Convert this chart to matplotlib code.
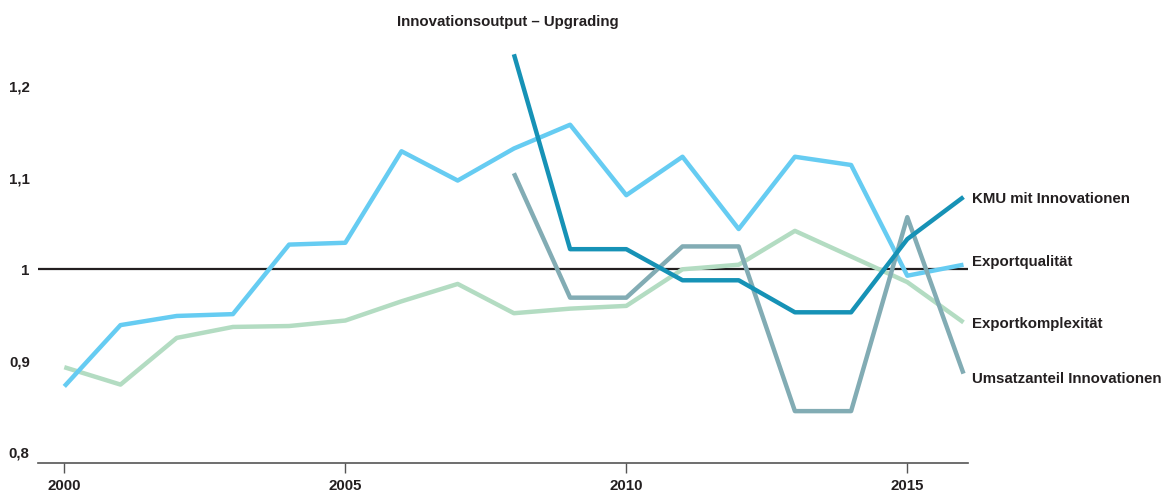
import matplotlib
matplotlib.use("Agg")
import matplotlib.pyplot as plt

# data
years = list(range(2000, 2017))
years_late = list(range(2008, 2017))

exportqualitaet = [0.872, 0.939, 0.949, 0.951, 1.027, 1.029, 1.129, 1.097, 1.132,
                   1.158, 1.081, 1.123, 1.044, 1.123, 1.114, 0.993, 1.005]
exportkomplexitaet = [0.893, 0.874, 0.925, 0.937, 0.938, 0.944, 0.965, 0.984, 0.952,
                      0.957, 0.960, 1.000, 1.005, 1.042, 1.014, 0.986, 0.942]
kmu_innovationen = [1.235, 1.022, 1.022, 0.988, 0.988, 0.953, 0.953, 1.033, 1.079]
umsatzanteil = [1.105, 0.969, 0.969, 1.025, 1.025, 0.845, 0.845, 1.057, 0.886]

y_ticks = [0.8, 0.9, 1.0, 1.1, 1.2]
y_ticklabels = ["0,8", "0,9", "1", "1,1", "1,2"]
x_ticks = [2000, 2005, 2010, 2015]

series = [
    ("Exportkomplexität", years, exportkomplexitaet, "#b3dcc2"),
    ("Exportqualität", years, exportqualitaet, "#66ccf2"),
    ("Umsatzanteil Innovationen", years_late, umsatzanteil, "#82acb4"),
    ("KMU mit Innovationen", years_late, kmu_innovationen, "#1692b6"),
]
label_y = {"KMU mit Innovationen": 1.077, "Exportqualität": 1.008,
           "Exportkomplexität": 0.940, "Umsatzanteil Innovationen": 0.880}

font = ["Liberation Sans Narrow", "Liberation Sans", "DejaVu Sans"]
plt.rcParams["font.family"] = font
txt = "#231f20"
fs = 10.8

W, H = 1171, 500
fig = plt.figure(figsize=(W / 100, H / 100), dpi=100)
left, right, bottom, top = 38, 968, 462.5, 40
ax = fig.add_axes([left / W, 1 - bottom / H, (right - left) / W, (bottom - top) / H])

x0 = 2000 - (64.3 - left) / 56.2
x1 = 2000 + (right - 64.3) / 56.2
ax.set_xlim(x0, x1)
ax.set_ylim(1 - (bottom - 269.3) / 915, 1 + (269.3 - top) / 915)

ax.axhline(1.0, color="#231f20", lw=1.6, zorder=1)

for name, xs, ys, col in series:
    ax.plot(xs, ys, color=col, lw=3.2, solid_capstyle="butt", clip_on=False, zorder=2)
    ax.text(2016.15, label_y[name], name, fontsize=fs, fontweight="bold",
            color=txt, va="center", ha="left")

for s in ["top", "right", "left"]:
    ax.spines[s].set_visible(False)
ax.spines["bottom"].set_color("#555555")
ax.spines["bottom"].set_linewidth(1.2)

ax.set_xticks(x_ticks)
ax.set_xticklabels([str(v) for v in x_ticks], fontsize=fs, fontweight="bold", color=txt)
ax.tick_params(axis="x", length=7, width=1, color="#555555", pad=5)
ax.set_yticks(y_ticks)
ax.set_yticklabels(y_ticklabels, fontsize=fs, fontweight="bold", color=txt)
ax.tick_params(axis="y", length=0, pad=6)

fig.text(508 / W, 1 - 22 / H, "Innovationsoutput – Upgrading", fontsize=fs,
         fontweight="bold", color=txt, ha="center", va="center")

fig.savefig("out.png", dpi=100)
